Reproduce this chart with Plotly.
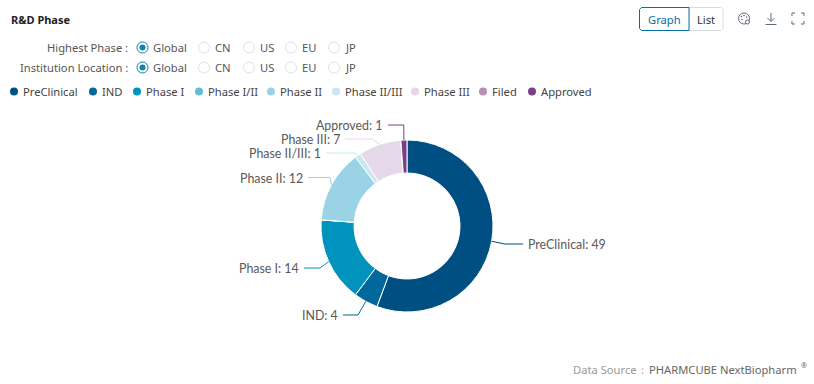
import math
import plotly.graph_objects as go

W, H = 814, 384
FONT = "Noto Sans"
LABEL_FONT = "Lato"

phases = ["PreClinical", "IND", "Phase I", "Phase I/II", "Phase II", "Phase II/III", "Phase III", "Filed", "Approved"]
counts = [49, 4, 14, 0, 12, 1, 7, 0, 1]
colors = ["#004F82", "#00689A", "#0093BD", "#63BBD6", "#9AD3E5", "#CBE8F1", "#E5D8E8", "#B78FB9", "#7C3F86"]
regions = ["Global", "CN", "US", "EU", "JP"]
filters = ["Highest Phase :", "Institution Location :"]

# layout only (pixel placement of the page furniture)
CX, CY, R, HOLE_R = 407, 226, 86, 53
legend_dot_x = [14, 93, 137, 199, 271, 336, 415, 483, 532]
radio_x = [142.5, 204, 249, 291, 334]
radio_y = [47.5, 67.5]
# label row y and leader elbow/end x, per phase with a label
leader = {
    "PreClinical": (244, 505, 523),
    "IND": (315, 358, 343),
    "Phase I": (268, 320, 304),
    "Phase II": (177.5, 330, 308),
    "Phase II/III": (153, 355, 326),
    "Phase III": (139, 372, 345),
    "Approved": (125, 403.7, 388),
}

px = lambda x: x / W
py = lambda y: 1 - y / H

shapes, ann = [], []


def text(x, y, s, size=11.2, color="#444", anchor="left", bold=False, family=FONT):
    ann.append(dict(xref="paper", yref="paper", x=px(x), y=py(y), text=f"<b>{s}</b>" if bold else s,
                    showarrow=False, xanchor=anchor, yanchor="middle", borderpad=0,
                    font=dict(family=family, size=size, color=color)))


def circle(x, y, r, fill="rgba(0,0,0,0)", line="rgba(0,0,0,0)", lw=1):
    shapes.append(dict(type="circle", xref="paper", yref="paper", x0=px(x - r), x1=px(x + r),
                       y0=py(y + r), y1=py(y - r), fillcolor=fill, line=dict(color=line, width=lw)))


def path(points, color, lw=1, closed=False, fill=None):
    d = "M" + " L".join(f"{px(a):.5f},{py(b):.5f}" for a, b in points) + (" Z" if closed else "")
    shapes.append(dict(type="path", xref="paper", yref="paper", path=d, fillcolor=fill,
                       line=dict(color=color, width=lw)))


# Title
text(10, 19.5, "R&D Phase", size=11, color="#222", bold=True)

# Radio filters
for fy, label in zip(radio_y, filters):
    text(129, fy, label, color="#555", anchor="right")
    for i, (rx, reg) in enumerate(zip(radio_x, regions)):
        if i == 0:
            circle(rx, fy, 5.5, fill="white", line="#0A7CA8")
            circle(rx, fy, 3, fill="#0A86B4")
        else:
            circle(rx, fy, 5.5, fill="white", line="#DDE1E6")
        text(rx + 9.5, fy, reg, color="#555")

# Legend
for dx, name, col in zip(legend_dot_x, phases, colors):
    circle(dx, 91.5, 4, fill=col)
    text(dx + 8, 91.5, name, color="#444")

# Graph / List toggle
path([(689, 7.5), (721, 7.5), (723, 9.5), (723, 28.5), (721, 30.5), (689, 30.5)], "#D5DCE3", closed=True, fill="white")
path([(641.5, 7.5), (689, 7.5), (689, 30.5), (641.5, 30.5), (639.5, 28.5), (639.5, 9.5)], "#0A6E9C", closed=True, fill="white")
text(664, 19.5, "Graph", color="#0A6E9C", anchor="center")
text(706, 19.5, "List", color="#333", anchor="center")

# Toolbar icons
ic = "#5F6B76"
circle(744, 18.5, 5.5, fill="white", line=ic)
circle(747.5, 22, 2, fill="white", line=ic)
for a, b in [(741.5, 16.5), (744, 15.5), (746.5, 17), (742, 19.5)]:
    circle(a, b, 0.8, fill=ic)
path([(771, 13), (771, 21)], ic)
path([(767.5, 18), (771, 21.5), (774.5, 18)], ic)
path([(765.5, 24.5), (776.5, 24.5)], ic)
for pts in ([(792, 16), (792, 13), (795, 13)], [(801, 13), (804, 13), (804, 16)],
            [(792, 21), (792, 24), (795, 24)], [(801, 24), (804, 24), (804, 21)]):
    path(pts, ic)

# Leader lines and labels, anchored at each slice's middle angle
total = sum(counts)
cum = 0
for name, value, col in zip(phases, counts, colors):
    mid = (cum + value / 2) / total * 2 * math.pi
    cum += value
    if name not in leader:
        continue
    ly, ex, tx = leader[name]
    sx, sy = CX + R * math.sin(mid), CY - R * math.cos(mid)
    path([(sx, sy), (ex, ly), (tx, ly)], col, lw=1)
    label = f"{name}: {value}"
    if tx > CX:
        text(tx + 4, ly + 0.5, label, size=12.4, color="#595959", family=LABEL_FONT)
    else:
        text(tx - 4, ly + 0.5, label, size=12.4, color="#595959", anchor="right", family=LABEL_FONT)

# Footer
text(572, 369.5, "Data Source：", color="#999")
text(648, 369.5, "PHARMCUBE NextBiopharm", color="#666")
text(800, 365.5, "®", size=7, color="#666")

fig = go.Figure(go.Pie(
    labels=phases, values=counts, sort=False, direction="clockwise", rotation=0,
    hole=HOLE_R / R, textinfo="none", showlegend=False,
    marker=dict(colors=colors, line=dict(color="white", width=1)),
    domain=dict(x=[px(CX - R), px(CX + R)], y=[py(CY + R), py(CY - R)]),
))
fig.update_layout(width=W, height=H, margin=dict(l=0, r=0, t=0, b=0), paper_bgcolor="white",
                  shapes=shapes, annotations=ann, showlegend=False)
fig.write_html("out.html", config={"displayModeBar": False},
               post_script="document.body.style.margin='0';document.body.style.overflow='hidden';")
